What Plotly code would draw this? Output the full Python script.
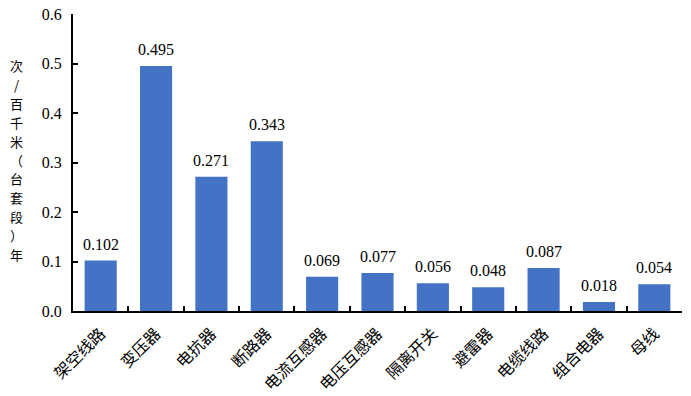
import plotly.graph_objects as go

categories = ["架空线路", "变压器", "电抗器", "断路器", "电流互感器", "电压互感器",
              "隔离开关", "避雷器", "电缆线路", "组合电器", "母线"]
values = [0.102, 0.495, 0.271, 0.343, 0.069, 0.077, 0.056, 0.048, 0.087, 0.018, 0.054]
y_ticks = [0.0, 0.1, 0.2, 0.3, 0.4, 0.5, 0.6]
y_title_chars = ["次", "/", "百", "千", "米", "（", "台", "套", "段", "）", "年"]

serif = "Times New Roman, Liberation Serif, serif"
cjk = "Noto Sans CJK SC, sans-serif"

W, H = 691, 396
L, R, T, B = 73, 9, 14, 85

fig = go.Figure(go.Bar(
    x=categories, y=values,
    marker=dict(color="#4472C4", line=dict(width=0)),
    width=0.58,
    hoverinfo="x+y",
))

for c, v in zip(categories, values):
    fig.add_annotation(
        x=c, y=v, xref="x", yref="y", text=f"{v:.3f}", showarrow=False,
        yanchor="bottom", yshift=6,
        font=dict(family=serif, size=16, color="black"),
    )

fig.update_layout(
    width=W, height=H,
    margin=dict(l=L, r=R, t=T, b=B, autoexpand=False),
    plot_bgcolor="white", paper_bgcolor="white",
    showlegend=False,
)
fig.update_xaxes(
    automargin=False,
    tickangle=-45,
    tickfont=dict(family=cjk, size=16, color="black"),
    ticklabelstandoff=5,
    showline=True, linecolor="black", linewidth=2,
    ticks="inside", tickson="boundaries", ticklen=5, tickcolor="black", tickwidth=1.5,
    showgrid=False,
)
fig.update_yaxes(
    automargin=False,
    range=[0, 0.6],
    tickvals=y_ticks,
    ticktext=[f"{t:.1f}" for t in y_ticks],
    tickfont=dict(family=serif, size=16, color="black"),
    ticklabeloverflow="allow",
    ticklabelstandoff=6,
    showline=True, linecolor="black", linewidth=2,
    ticks="inside", ticklen=5, tickcolor="black", tickwidth=1.5,
    showgrid=False, zeroline=False,
)

# vertical y-axis title, one character per annotation
plot_h = H - T - B
plot_w = W - L - R
center_px, step_px = 160, 18.9
n = len(y_title_chars)
for i, ch in enumerate(y_title_chars):
    ypix = center_px + (i - (n - 1) / 2) * step_px
    fig.add_annotation(
        text=ch, xref="paper", yref="paper",
        x=(16 - L) / plot_w, y=(H - B - ypix) / plot_h,
        xanchor="center", yanchor="middle", showarrow=False,
        font=dict(family=cjk, size=13, color="black"),
    )

fig.write_html(
    "out.html",
    config={"displayModeBar": False},
    post_script="document.body.style.margin='0';document.body.style.overflow='hidden';",
)
